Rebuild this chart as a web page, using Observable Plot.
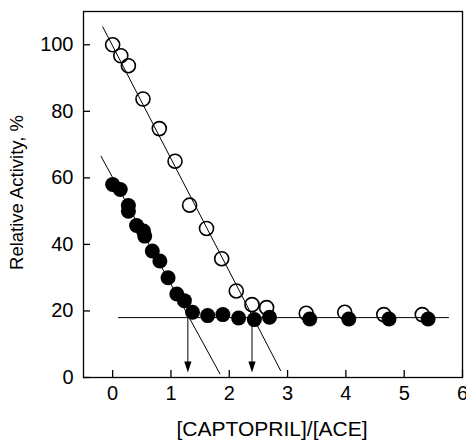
<!DOCTYPE html>
<html>
<head>
<meta charset="utf-8">
<script src="https://cdn.jsdelivr.net/npm/d3@7"></script>
<script src="https://cdn.jsdelivr.net/npm/@observablehq/plot@0.6"></script>
<style>
  html, body { margin: 0; padding: 0; background: #fff; }
  svg { display: block; }
</style>
</head>
<body>
<div id="chart"></div>
<script>
// Open circles
const openX = [0, 0.14, 0.27, 0.52, 0.80, 1.07, 1.32, 1.61, 1.87, 2.12, 2.39, 2.64, 3.32, 3.98, 4.65, 5.31];
const openY = [100, 96.7, 93.7, 83.7, 74.8, 65.0, 51.8, 44.8, 35.7, 26.0, 21.9, 21.0, 19.3, 19.6, 18.9, 18.9];
// Filled circles
const filledX = [0, 0.13, 0.27, 0.27, 0.41, 0.53, 0.55, 0.68, 0.81, 0.95, 1.10, 1.23, 1.37, 1.63, 1.89, 2.16, 2.43, 2.69, 3.38, 4.05, 4.74, 5.41];
const filledY = [58.0, 56.5, 51.7, 50.0, 45.7, 44.0, 42.5, 38.0, 35.0, 30.0, 25.1, 23.1, 19.6, 18.6, 18.9, 17.9, 17.4, 18.1, 17.6, 17.6, 17.6, 17.6];
// Fitted lines (endpoints)
const openFitX = [-0.17, 2.88];
const openFitY = [105.4, 2.1];
const filledFitX = [-0.2, 1.84];
const filledFitY = [66.5, 1.1];
const plateauX = [0.1, 5.76];
const plateauY = [18, 18];
// Equivalence-point arrows
const arrowX = [1.29, 2.39];
const arrowTopY = 18;
const arrowTipY = 1.5;
const xTicks = [0, 1, 2, 3, 4, 5, 6];
const yTicks = [0, 20, 40, 60, 80, 100];
const xTitle = "[CAPTOPRIL]/[ACE]";
const yTitle = "Relative Activity, %";

const openData = openX.map((x, i) => ({x, y: openY[i]}));
const filledData = filledX.map((x, i) => ({x, y: filledY[i]}));
const toPts = (xs, ys) => xs.map((x, i) => ({x, y: ys[i]}));
const arrows = arrowX.map(x => ({x, y1: arrowTopY, y2: arrowTipY}));

const arrowHead = {
  draw(context) {
    context.moveTo(0, 0);
    context.lineTo(-3.6, -11);
    context.lineTo(3.6, -11);
    context.closePath();
  }
};

const font = "'Liberation Sans', Arial, Helvetica, sans-serif";

const chart = Plot.plot({
  width: 466,
  height: 440,
  marginLeft: 83,
  marginRight: 4,
  marginTop: 11,
  marginBottom: 63,
  style: {fontFamily: font, color: "#000", background: "#fff"},
  x: {domain: [-0.5, 6]},
  y: {domain: [0, 110]},
  marks: [
    Plot.frame({stroke: "#000", strokeWidth: 1.3}),
    // inward ticks
    Plot.axisX(xTicks, {text: null, tickSize: 7, dy: -7, strokeWidth: 1.3, label: null}),
    Plot.axisY(yTicks, {text: null, tickSize: 7, dx: 7, strokeWidth: 1.3, label: null}),
    // tick labels
    Plot.axisX(xTicks, {tickSize: 0, tickPadding: 8, fontSize: 20, label: null}),
    Plot.axisY(yTicks, {tickSize: 0, tickPadding: 10, fontSize: 20, label: null}),
    // axis titles
    Plot.text([xTitle], {text: d => d, frameAnchor: "bottom", textAnchor: "middle", lineAnchor: "bottom", dy: 58, dx: -1, fontSize: 21, fill: "#000"}),
    Plot.text([yTitle], {text: d => d, frameAnchor: "left", textAnchor: "middle", lineAnchor: "top", rotate: -90, dx: -74, dy: -2, fontSize: 18.5, fill: "#000"}),
    // fit lines
    Plot.line(toPts(openFitX, openFitY), {x: "x", y: "y", stroke: "#000", strokeWidth: 1}),
    Plot.line(toPts(filledFitX, filledFitY), {x: "x", y: "y", stroke: "#000", strokeWidth: 1}),
    Plot.line(toPts(plateauX, plateauY), {x: "x", y: "y", stroke: "#000", strokeWidth: 1}),
    // arrows
    Plot.link(arrows, {x1: "x", x2: "x", y1: "y1", y2: d => d.y2 + 2, stroke: "#000", strokeWidth: 1}),
    Plot.dot(arrows, {x: "x", y: "y2", symbol: arrowHead, fill: "#000", stroke: "none", r: 4}),
    // data
    Plot.dot(openData, {x: "x", y: "y", r: 7, stroke: "#000", strokeWidth: 1.6, fill: "none"}),
    Plot.dot(filledData, {x: "x", y: "y", r: 7.5, fill: "#000", stroke: "none"})
  ]
});
document.getElementById("chart").appendChild(chart);
</script>
</body>
</html>
